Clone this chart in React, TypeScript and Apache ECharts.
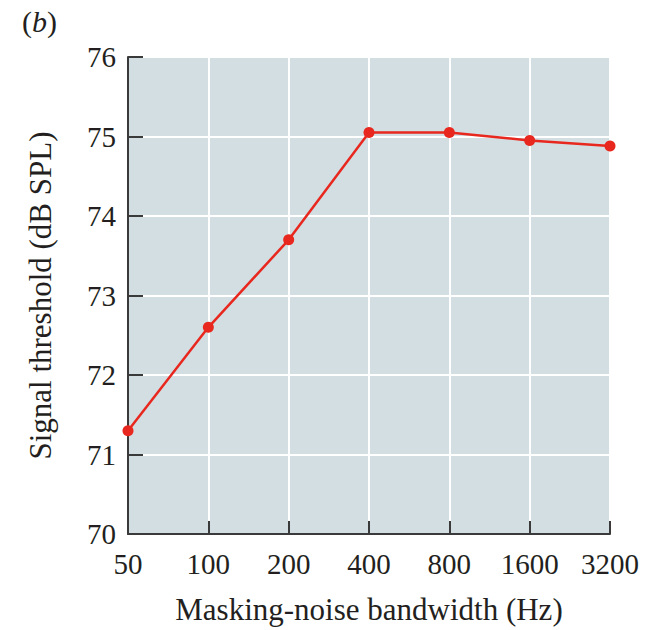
import React, { useEffect, useRef } from "react";
import * as echarts from "echarts";

// Masking-noise bandwidth (Hz) and measured signal threshold (dB SPL)
const bandwidths = ["50", "100", "200", "400", "800", "1600", "3200"];
const thresholds = [71.3, 72.6, 73.7, 75.05, 75.05, 74.95, 74.88];
const yTicks = { min: 70, max: 76, step: 1 };

const FONT = "'Liberation Serif', 'DejaVu Serif', serif";
const INK = "#231f20";

export default function App() {
  const ref = useRef<HTMLDivElement>(null);

  useEffect(() => {
    document.body.style.margin = "0";
    const chart = echarts.init(ref.current!, null, { renderer: "svg" });
    chart.setOption({
      animation: false,
      backgroundColor: "#ffffff",
      textStyle: { fontFamily: FONT, color: INK },
      graphic: [
        {
          type: "text",
          left: 22,
          top: 6,
          style: {
            text: "({i|b})",
            font: `30px ${FONT}`,
            fill: INK,
            rich: {
              i: { fontStyle: "italic", fontSize: 30, fontFamily: FONT, fill: INK },
            },
          },
        },
      ],
      grid: {
        left: 128,
        right: 44,
        top: 57,
        bottom: 93,
        show: true,
        backgroundColor: "#d3dee3",
        borderWidth: 0,
      },
      xAxis: {
        type: "category",
        data: bandwidths,
        boundaryGap: false,
        name: "Masking-noise bandwidth (Hz)",
        nameLocation: "middle",
        nameGap: 60,
        nameTextStyle: { fontFamily: FONT, fontSize: 31, color: INK },
        axisLine: { lineStyle: { color: "#3a3a3a", width: 2 } },
        axisTick: { inside: true, length: 13, lineStyle: { color: "#3a3a3a", width: 2 } },
        axisLabel: { fontFamily: FONT, fontSize: 29, color: INK, margin: 15 },
        splitLine: { show: true, lineStyle: { color: "#ffffff", width: 2 } },
      },
      yAxis: {
        type: "value",
        min: yTicks.min,
        max: yTicks.max,
        interval: yTicks.step,
        name: "Signal threshold (dB SPL)",
        nameLocation: "middle",
        nameGap: 72,
        nameTextStyle: { fontFamily: FONT, fontSize: 31, color: INK },
        axisLine: { show: true, lineStyle: { color: "#3a3a3a", width: 2 } },
        axisTick: { show: true, inside: true, length: 15, lineStyle: { color: "#3a3a3a", width: 2 } },
        axisLabel: { fontFamily: FONT, fontSize: 29, color: INK, margin: 12 },
        splitLine: { show: true, lineStyle: { color: "#ffffff", width: 2 } },
      },
      series: [
        {
          type: "line",
          data: thresholds,
          symbol: "circle",
          symbolSize: 11,
          lineStyle: { color: "#e8281e", width: 2.5 },
          itemStyle: { color: "#e8281e" },
          z: 5,
        },
      ],
    });
    return () => chart.dispose();
  }, []);

  return <div ref={ref} style={{ width: 654, height: 630 }} />;
}
